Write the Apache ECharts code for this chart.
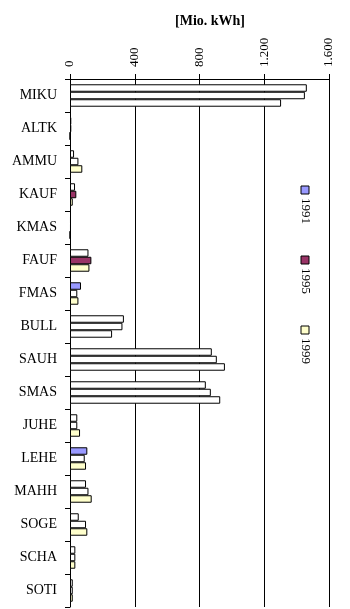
<!DOCTYPE html>
<html>
<head>
<meta charset="utf-8">
<script src="https://cdn.jsdelivr.net/npm/echarts@6/dist/echarts.min.js"></script>
<style>
html,body{margin:0;padding:0;background:#fff;}
#main{width:350px;height:609px;}
</style>
</head>
<body>
<div id="main"></div>
<script>
var categories = ['MIKU','ALTK','AMMU','KAUF','KMAS','FAUF','FMAS','BULL','SAUH','SMAS','JUHE','LEHE','MAHH','SOGE','SCHA','SOTI'];
var years = ['1991','1995','1999'];
var v1991 = [1463, 8, 25, 31, 6, 114, 68, 333, 876, 839, 45, 107, 99, 54, 33, 17];
var v1995 = [1451, 8, 52, 39, 6, 132, 45, 324, 907, 870, 45, 91, 114, 99, 33, 17];
var v1999 = [1304, 0, 76, 17, 0, 120, 52, 260, 957, 928, 62, 99, 134, 107, 33, 17];
var xTicks = [0, 400, 800, 1200, 1600];

// which bars came out filled in the original (the rest are drawn white)
var filled1991 = ['FMAS','LEHE'];
var filled1995 = ['KAUF','FAUF'];
var filled1999 = ['AMMU','KAUF','FAUF','FMAS','JUHE','LEHE','MAHH','SOGE','SCHA','SOTI'];
var colors = ['#9999FF','#993366','#FFFFCC'];

var serif = '"Liberation Serif", "DejaVu Serif", serif';

function mkData(vals, filled, col){
	return vals.map(function(v,i){
		return {
			value: v,
			itemStyle: {color: filled.indexOf(categories[i]) >= 0 ? col : '#ffffff'}
		};
	});
}

var myChart = echarts.init(document.getElementById('main'));

var allVals = [v1991, v1995, v1999];
var allFilled = [filled1991, filled1995, filled1999];
var series = years.map(function(y,k){
	return {
		name: y,
		type: 'bar',
		barGap: '0%',
		barCategoryGap: '32%',
		itemStyle: {borderColor: '#000', borderWidth: 1},
		data: mkData(allVals[k], allFilled[k], colors[k])
	};
});

// legend drawn by hand because the text is turned on its side
var legendTops = [186, 256, 326];
var legendItems = [];
years.forEach(function(y,k){
	legendItems.push({
		type: 'rect',
		shape: {x: 301, y: legendTops[k], width: 8, height: 8},
		style: {fill: colors[k], stroke: '#000', lineWidth: 1}
	});
	legendItems.push({
		type: 'text',
		x: 305, y: legendTops[k] + 12,
		rotation: -Math.PI/2,
		style: {text: y, font: '13px ' + serif, fill: '#000', textAlign: 'left', textVerticalAlign: 'middle'}
	});
});

option = {
	animation: false,
	title: {
		text: '[Mio. kWh]',
		left: 205, top: 9,
		textAlign: 'center',
		textStyle: {fontFamily: serif, fontSize: 14, fontWeight: 'bold', color: '#000'}
	},
	grid: {left: 70, right: 21, top: 79, bottom: 2, containLabel: false},
	xAxis: {
		type: 'value',
		position: 'top',
		min: 0, max: 1600, interval: 400,
		axisLine: {show: true, lineStyle: {color: '#000', width: 1}},
		axisTick: {show: true, length: 5, lineStyle: {color: '#000'}},
		splitLine: {show: true, lineStyle: {color: '#000', width: 1}},
		axisLabel: {
			rotate: -90, margin: 12,
			fontFamily: serif, fontSize: 13, color: '#000',
			formatter: function(v){ return xTicks.indexOf(v) >= 0 ? String(v).replace(/\B(?=(\d{3})+(?!\d))/g, '.') : ''; }
		}
	},
	yAxis: {
		type: 'category',
		inverse: true,
		data: categories,
		axisLine: {show: true, lineStyle: {color: '#000', width: 1}},
		axisTick: {show: true, length: 5, alignWithLabel: false, lineStyle: {color: '#000'}},
		axisLabel: {margin: 13, fontFamily: serif, fontSize: 14, color: '#000'}
	},
	graphic: legendItems,
	series: series
};

myChart.setOption(option);
</script>
</body>
</html>
